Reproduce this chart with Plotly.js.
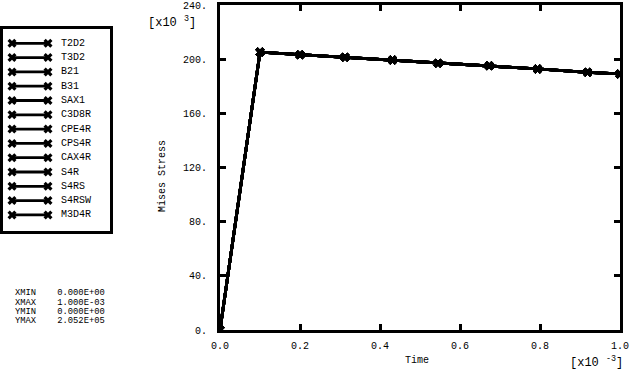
<!DOCTYPE html>
<html>
<head>
<meta charset="utf-8">
<script src="https://cdn.plot.ly/plotly-3.0.1.min.js"></script>
<style>
  html, body { margin: 0; padding: 0; background: #fff; }
  #chart { width: 630px; height: 373px; }
</style>
</head>
<body>
<div id="chart"></div>
<script>
// ---- data ----
const seriesNames = ["T2D2", "T3D2", "B21", "B31", "SAX1", "C3D8R", "CPE4R", "CPS4R", "CAX4R", "S4R", "S4RS", "S4RSW", "M3D4R"];
const timeVals = [0, 0.0001, 0.0002, 0.0003125, 0.0004313, 0.000545, 0.000673, 0.000794, 0.000919, 0.001];
const stressVals = [0, 205200, 203300, 201400, 199400, 197000, 195200, 192800, 190300, 189100];
const xTickVals = [0, 0.0002, 0.0004, 0.0006, 0.0008, 0.001];
const xTickText = ["0.0", "0.2", "0.4", "0.6", "0.8", "1.0"];
const yTickVals = [0, 40000, 80000, 120000, 160000, 200000, 240000];
const yTickText = ["0.", "40.", "80.", "120.", "160.", "200.", "240."];

const W = 630, H = 373;
const FONT = "Liberation Mono, DejaVu Sans Mono, monospace";
const px = v => v / W;
const py = v => 1 - v / H;

function fmtE(v) {
  const s = v.toExponential(3).toUpperCase();
  const m = s.match(/^(-?[\d.]+)E([+-])(\d+)$/);
  return m[1] + "E" + m[2] + (m[3].length < 2 ? "0" + m[3] : m[3]);
}

const traces = [];
seriesNames.forEach(name => {
  traces.push({
    x: timeVals, y: stressVals, name: name, type: "scatter", mode: "lines+markers",
    line: { color: "#000", width: 2.8 },
    marker: { symbol: "x", size: 8, color: "#000" },
    xaxis: "x", yaxis: "y", showlegend: false, hoverinfo: "skip"
  });
});

// legend keys drawn on a small auxiliary axis pair (pixel-like coordinates)
const legTop = 43.3, legStep = 14.3;
const annotations = [];
seriesNames.forEach((name, i) => {
  const yy = legTop + i * legStep;
  traces.push({
    x: [12, 48], y: [yy, yy], type: "scatter", mode: "lines+markers",
    line: { color: "#000", width: 2.8 },
    marker: { symbol: "x", size: 8, color: "#000" },
    xaxis: "x2", yaxis: "y2", showlegend: false, hoverinfo: "skip"
  });
  annotations.push({
    xref: "x2", yref: "y2", x: 59, y: yy, text: name, showarrow: false,
    xanchor: "left", yanchor: "middle", font: { family: FONT, size: 10, color: "#000" }
  });
});

// range info block
const info = [
  ["XMIN", fmtE(Math.min(...timeVals)), 293],
  ["XMAX", fmtE(Math.max(...timeVals)), 302.7],
  ["YMIN", fmtE(Math.min(...stressVals)), 312.3],
  ["YMAX", fmtE(Math.max(...stressVals)), 320.7]
];
info.forEach(r => {
  annotations.push({
    xref: "paper", yref: "paper", x: px(13), y: py(r[2]), text: r[0] + "    " + r[1],
    showarrow: false, xanchor: "left", yanchor: "middle",
    font: { family: FONT, size: 8.8, color: "#000" }
  });
});

annotations.push(
  { xref: "paper", yref: "paper", x: px(162), y: py(176), text: "Mises Stress", textangle: -90,
    showarrow: false, xanchor: "center", yanchor: "middle", font: { family: FONT, size: 10, color: "#000" } },
  { xref: "paper", yref: "paper", x: px(417), y: py(360), text: "Time",
    showarrow: false, xanchor: "center", yanchor: "middle", font: { family: FONT, size: 10, color: "#000" } },
  { xref: "paper", yref: "paper", x: px(146), y: py(22), text: "[x10 <sup>3</sup>]",
    showarrow: false, xanchor: "left", yanchor: "middle", font: { family: FONT, size: 12, color: "#000" } },
  { xref: "paper", yref: "paper", x: px(568), y: py(362), text: "[x10 <sup>-3</sup>]",
    showarrow: false, xanchor: "left", yanchor: "middle", font: { family: FONT, size: 12, color: "#000" } }
);

const layout = {
  width: W, height: H,
  margin: { l: 0, r: 0, t: 0, b: 0, pad: 0 },
  paper_bgcolor: "#fff", plot_bgcolor: "rgba(0,0,0,0)",
  showlegend: false,
  font: { family: FONT, size: 10, color: "#000" },
  xaxis: {
    domain: [px(220), px(620)], range: [0, 0.001], anchor: "y",
    tickvals: xTickVals, ticktext: xTickText,
    ticks: "inside", ticklen: 6, tickwidth: 3, tickcolor: "#000",
    showline: true, linewidth: 3, linecolor: "#000", mirror: "allticks",
    showgrid: false, zeroline: false, ticklabelstandoff: 4,
    tickfont: { family: FONT, size: 10, color: "#000" }
  },
  yaxis: {
    domain: [py(330), py(5)], range: [0, 240000], anchor: "x",
    tickvals: yTickVals, ticktext: yTickText,
    ticks: "inside", ticklen: 6, tickwidth: 3, tickcolor: "#000",
    showline: true, linewidth: 3, linecolor: "#000", mirror: "allticks",
    showgrid: false, zeroline: false, ticklabelstandoff: 8,
    tickfont: { family: FONT, size: 10, color: "#000" }
  },
  xaxis2: {
    domain: [px(3), px(110)], range: [3, 110], anchor: "y2",
    showline: true, linewidth: 3, linecolor: "#000", mirror: true,
    showgrid: false, zeroline: false, showticklabels: false, ticks: ""
  },
  yaxis2: {
    domain: [py(231), py(29)], range: [231, 29], anchor: "x2",
    showline: true, linewidth: 3, linecolor: "#000", mirror: true,
    showgrid: false, zeroline: false, showticklabels: false, ticks: ""
  },
  annotations: annotations
};

Plotly.newPlot("chart", traces, layout, { staticPlot: true, displayModeBar: false });
</script>
</body>
</html>
